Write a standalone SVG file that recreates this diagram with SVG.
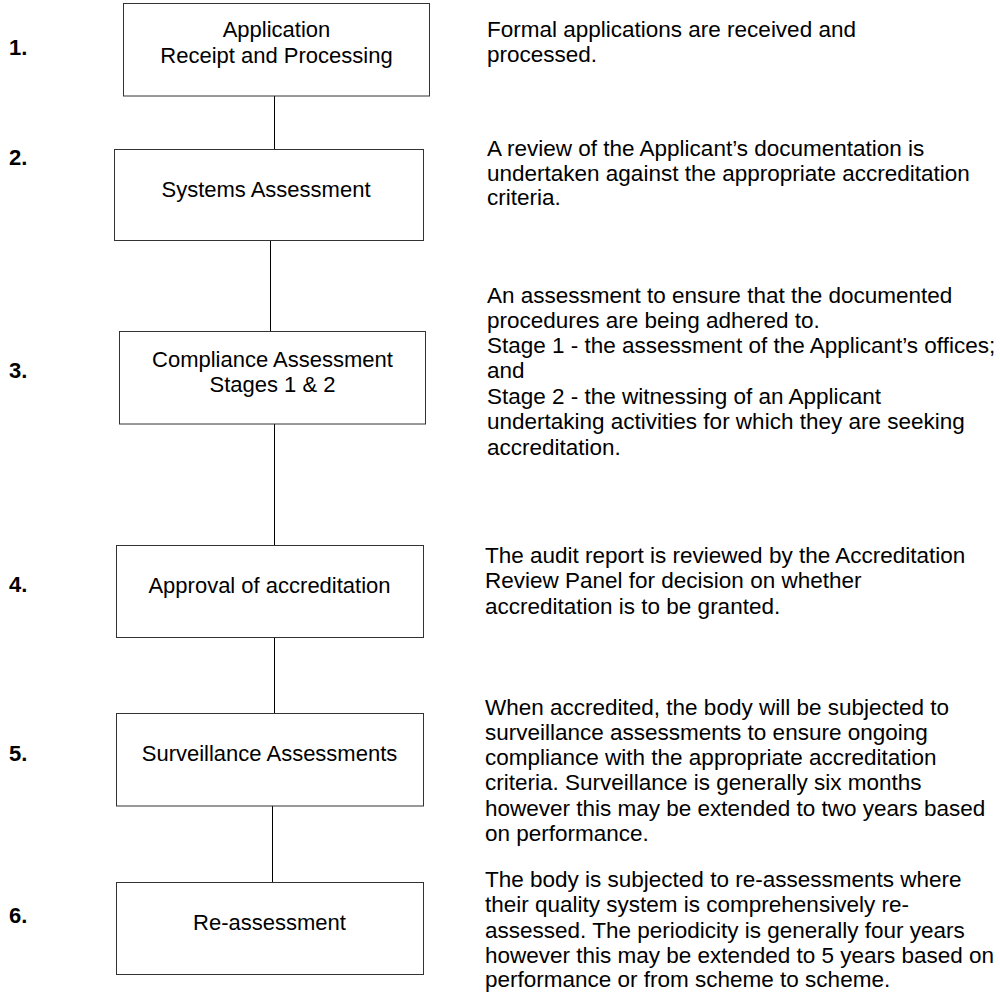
<svg xmlns="http://www.w3.org/2000/svg" width="1000" height="993" viewBox="0 0 1000 993">
<style>
text{font-family:"Liberation Sans",Arial,sans-serif;font-size:22px;fill:#000}
.num{font-weight:bold}
.desc{font-size:22.5px}
.box{fill:#fff;stroke:#333;stroke-width:1}
.lbl{text-anchor:middle}
.conn line{stroke:#000;stroke-width:1}
</style>
<rect width="1000" height="993" fill="#fff"/>
<g class="conn" id="connectors">
<line x1="274.5" y1="96" x2="274.5" y2="149.5"/>
<line x1="270.5" y1="240.5" x2="270.5" y2="331.5"/>
<line x1="274.5" y1="424" x2="274.5" y2="545.5"/>
<line x1="274.5" y1="637.5" x2="274.5" y2="713.5"/>
<line x1="272.5" y1="806" x2="272.5" y2="882.5"/>
</g>
<g id="step1">
<text class="num" x="9" y="55">1.</text>
<rect class="box" x="123.5" y="3.5" width="306" height="92.5"/>
<text class="lbl" x="276.5" y="37">Application</text>
<text class="lbl" x="276.5" y="63">Receipt and Processing</text>
<text class="desc" x="487" y="37">Formal applications are received and</text>
<text class="desc" x="487" y="62">processed.</text>
</g>
<g id="step2">
<text class="num" x="9" y="165">2.</text>
<rect class="box" x="114.5" y="149.5" width="309" height="91"/>
<text class="lbl" x="266" y="197">Systems Assessment</text>
<text class="desc" x="487" y="156">A review of the Applicant’s documentation is</text>
<text class="desc" x="487" y="181">undertaken against the appropriate accreditation</text>
<text class="desc" x="487" y="205">criteria.</text>
</g>
<g id="step3">
<text class="num" x="9" y="378">3.</text>
<rect class="box" x="119.5" y="331.5" width="306" height="92.5"/>
<text class="lbl" x="272.5" y="367">Compliance Assessment</text>
<text class="lbl" x="272.5" y="392">Stages 1 &amp; 2</text>
<text class="desc" x="487" y="303">An assessment to ensure that the documented</text>
<text class="desc" x="487" y="328">procedures are being adhered to.</text>
<text class="desc" x="487" y="353">Stage 1 - the assessment of the Applicant’s offices;</text>
<text class="desc" x="487" y="378">and</text>
<text class="desc" x="487" y="404">Stage 2 - the witnessing of an Applicant</text>
<text class="desc" x="487" y="429">undertaking activities for which they are seeking</text>
<text class="desc" x="487" y="455">accreditation.</text>
</g>
<g id="step4">
<text class="num" x="9" y="592">4.</text>
<rect class="box" x="116.5" y="545.5" width="307" height="92"/>
<text class="lbl" x="269.5" y="592.5">Approval of accreditation</text>
<text class="desc" x="485" y="563">The audit report is reviewed by the Accreditation</text>
<text class="desc" x="485" y="588">Review Panel for decision on whether</text>
<text class="desc" x="485" y="614">accreditation is to be granted.</text>
</g>
<g id="step5">
<text class="num" x="9" y="760.5">5.</text>
<rect class="box" x="116.5" y="713.5" width="307" height="92.5"/>
<text class="lbl" x="269.5" y="760.5">Surveillance Assessments</text>
<text class="desc" x="485" y="715">When accredited, the body will be subjected to</text>
<text class="desc" x="485" y="740">surveillance assessments to ensure ongoing</text>
<text class="desc" x="485" y="765">compliance with the appropriate accreditation</text>
<text class="desc" x="485" y="790">criteria. Surveillance is generally six months</text>
<text class="desc" x="485" y="816">however this may be extended to two years based</text>
<text class="desc" x="485" y="841">on performance.</text>
</g>
<g id="step6">
<text class="num" x="9" y="923">6.</text>
<rect class="box" x="116.5" y="882.5" width="307" height="92"/>
<text class="lbl" x="269.5" y="930">Re-assessment</text>
<text class="desc" x="485" y="887">The body is subjected to re-assessments where</text>
<text class="desc" x="485" y="912">their quality system is comprehensively re-</text>
<text class="desc" x="485" y="938">assessed. The periodicity is generally four years</text>
<text class="desc" x="485" y="963">however this may be extended to 5 years based on</text>
<text class="desc" x="485" y="987">performance or from scheme to scheme.</text>
</g>
</svg>
